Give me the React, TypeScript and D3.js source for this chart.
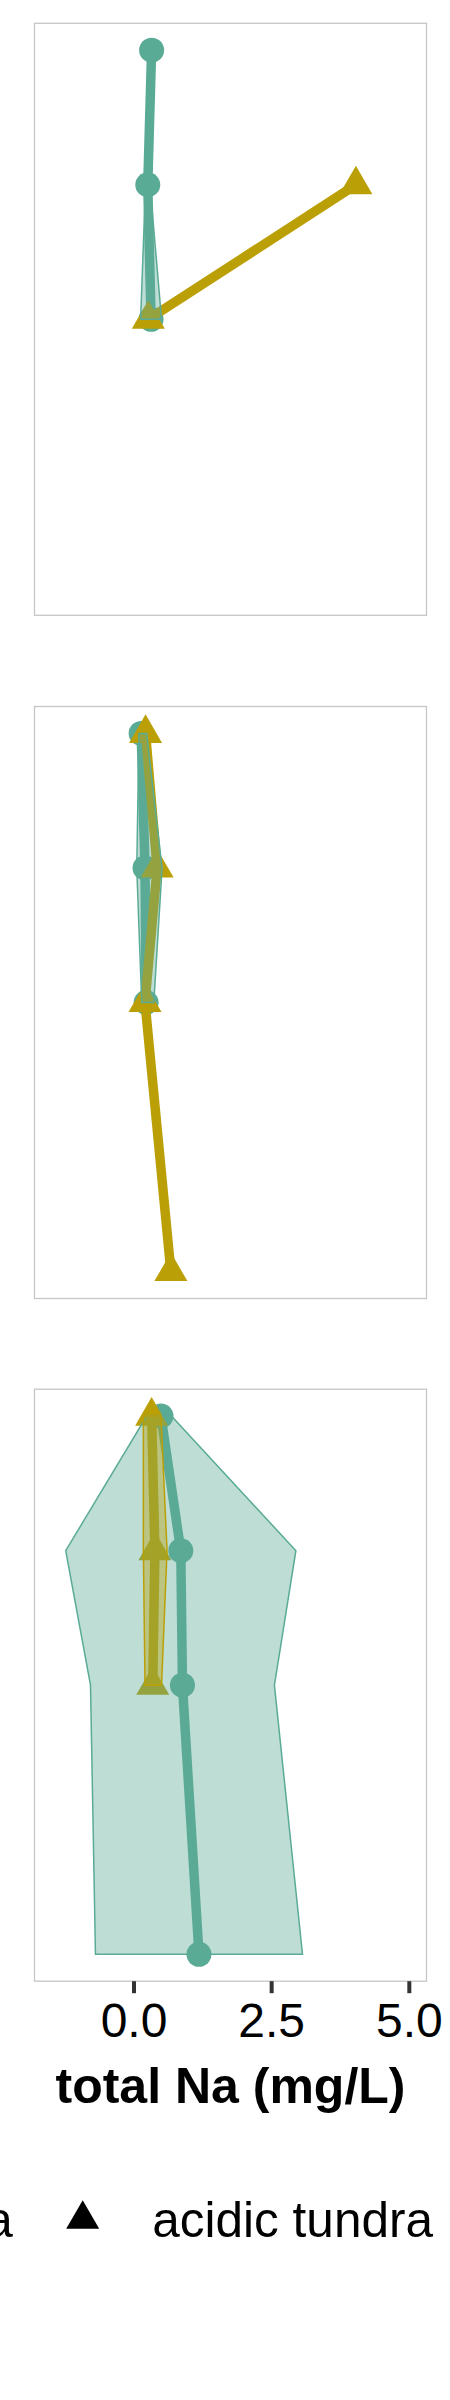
import React from "react";
import * as d3 from "d3";

// ---- data ----
const depthLevels = [0, 10, 20, 40];
const xTicks = [0, 2.5, 5];
const xTickLabels = ["0.0", "2.5", "5.0"];
const xTitle = "total Na (mg/L)";
const legendLabels = ["non-acidic tundra", "acidic tundra"];

// panel 1
const tealMean1 = [0.32, 0.25, 0.31];
const tealLo1 = [0.29, 0.21, 0.12];
const tealHi1 = [0.35, 0.29, 0.5];
const mustardMean1 = [null, 4.03, 0.26];

// panel 2
const tealMean2 = [0.13, 0.2, 0.22];
const tealLo2 = [0.09, 0.05, 0.14];
const tealHi2 = [0.23, 0.51, 0.36];
const mustardMean2 = [0.21, 0.42, 0.2, 0.67];

// panel 3
const tealMean3 = [0.49, 0.85, 0.88, 1.18];
const tealLo3 = [0.23, -1.24, -0.79, -0.7];
const tealHi3 = [0.68, 2.94, 2.55, 3.06];
const mustardMean3 = [0.32, 0.38, 0.34];
const mustardLo3 = [0.17, 0.17, 0.2];
const mustardHi3 = [0.49, 0.6, 0.5];

const TEAL = "#5aab95";
const MUSTARD = "#bb9f06";
const FONT = "Arial, 'Liberation Sans', Helvetica, sans-serif";

type Pt = { d: number; v: number; lo?: number; hi?: number };

function build(mean: (number | null)[], lo?: number[], hi?: number[]): Pt[] {
  const out: Pt[] = [];
  mean.forEach((m, i) => {
    if (m === null || m === undefined) return;
    out.push({ d: depthLevels[i], v: m, lo: lo ? lo[i] : undefined, hi: hi ? hi[i] : undefined });
  });
  return out;
}

const panels = [
  { teal: build(tealMean1, tealLo1, tealHi1), mustard: build(mustardMean1), mustardRibbon: false },
  { teal: build(tealMean2, tealLo2, tealHi2), mustard: build(mustardMean2), mustardRibbon: false },
  { teal: build(tealMean3, tealLo3, tealHi3), mustard: build(mustardMean3, mustardLo3, mustardHi3), mustardRibbon: true },
];

const W = 450;
const H = 2400;
const panelLeft = 34.5;
const panelRight = 426.5;
const panelTops = [23.3, 706.5, 1389.2];
const panelH = 592;
const LW = 9.5;

export default function App() {
  const x = d3.scaleLinear().domain([-1.807, 5.312]).range([panelLeft, panelRight]);
  const tri = d3.symbol().type(d3.symbolTriangle).size(472)()!;
  const lastBottom = panelTops[2] + panelH;

  return (
    <svg
      width={W}
      height={H}
      style={{ position: "absolute", left: 0, top: 0, background: "#ffffff" }}
      fontFamily={FONT}
    >
      <rect x={0} y={0} width={W} height={H} fill="#ffffff" />
      {panels.map((p, pi) => {
        const top = panelTops[pi];
        const y = d3.scaleLinear().domain([-2, 42]).range([top, top + panelH]);
        const line = d3.line<Pt>().x((d) => x(d.v)).y((d) => y(d.d));
        const area = d3
          .area<Pt>()
          .y((d) => y(d.d))
          .x0((d) => x(d.lo as number))
          .x1((d) => x(d.hi as number));
        return (
          <g key={pi}>
            <rect x={panelLeft} y={top} width={panelRight - panelLeft} height={panelH} fill="#ffffff" />
            <clipPath id={"clip" + pi}>
              <rect x={panelLeft} y={top} width={panelRight - panelLeft} height={panelH} />
            </clipPath>
            <g clipPath={`url(#clip${pi})`}>
              <path d={line(p.teal)!} fill="none" stroke={TEAL} strokeWidth={LW} strokeLinejoin="round" />
              {p.teal.map((d, i) => (
                <circle key={"c" + i} cx={x(d.v)} cy={y(d.d)} r={12.5} fill={TEAL} />
              ))}
              <path d={line(p.mustard)!} fill="none" stroke={MUSTARD} strokeWidth={LW} strokeLinejoin="round" />
              {p.mustard.map((d, i) => (
                <path key={"t" + i} d={tri} transform={`translate(${x(d.v)},${y(d.d)})`} fill={MUSTARD} />
              ))}
              <path d={area(p.teal)!} fill={TEAL} fillOpacity={0.4} stroke={TEAL} strokeWidth={1.5} />
              {p.mustardRibbon && (
                <path d={area(p.mustard)!} fill={MUSTARD} fillOpacity={0.4} stroke={MUSTARD} strokeWidth={1.5} />
              )}
            </g>
            <rect
              x={panelLeft}
              y={top}
              width={panelRight - panelLeft}
              height={panelH}
              fill="none"
              stroke="#c6c6c6"
              strokeWidth={1.3}
            />
          </g>
        );
      })}

      {/* x axis */}
      {xTicks.map((t, i) => (
        <g key={"tick" + i}>
          <line x1={x(t)} x2={x(t)} y1={lastBottom} y2={lastBottom + 12} stroke="#333333" strokeWidth={4} />
          <text x={x(t)} y={2036.7} textAnchor="middle" fontSize={48} fill="#000000">
            {xTickLabels[i]}
          </text>
        </g>
      ))}
      <text x={(panelLeft + panelRight) / 2} y={2103} textAnchor="middle" fontSize={50} fontWeight="bold" fill="#000000">
        {xTitle}
      </text>

      {/* legend */}
      <circle cx={-120} cy={2219} r={14} fill="#000000" />
      <text x={12.7} y={2236.7} textAnchor="end" fontSize={49.5} fill="#000000">
        {legendLabels[0]}
      </text>
      <path d={tri} transform="translate(82.7,2219.3)" fill="#000000" />
      <text x={152.3} y={2236.7} fontSize={49.5} fill="#000000">
        {legendLabels[1]}
      </text>
    </svg>
  );
}
